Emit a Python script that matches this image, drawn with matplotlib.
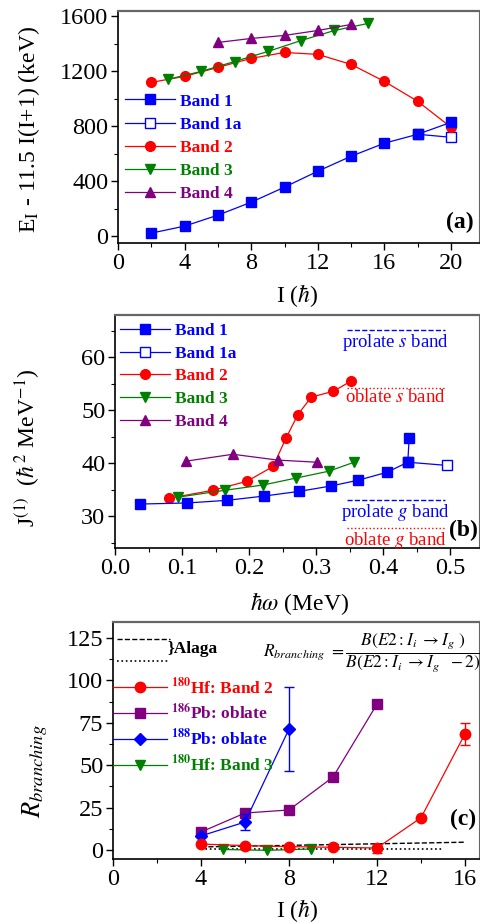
import matplotlib
matplotlib.use("Agg")
import matplotlib.pyplot as plt
import numpy as np
from matplotlib.ticker import MultipleLocator
from matplotlib.lines import Line2D

plt.rcParams.update({
    "font.family": "serif",
    "font.serif": ["Liberation Serif", "DejaVu Serif"],
    "mathtext.fontset": "stix",
    "font.size": 17,
})

BLUE, RED, GREEN, PURPLE = "#0000FF", "#FF0000", "#008000", "#800080"

# ---- panel (a): E_I - 11.5 I(I+1) vs spin
a_band1_I = [2, 4, 6, 8, 10, 12, 14, 16, 18, 20]
a_band1_E = [22, 73, 153, 247, 357, 473, 582, 677, 742, 829]
a_band1a_I = [18, 20]
a_band1a_E = [742, 720]
a_band2_I = [2, 4, 6, 8, 10, 12, 14, 16, 18, 20]
a_band2_E = [1120, 1164, 1229, 1295, 1338, 1324, 1251, 1127, 982, 793]
a_band3_I = [3, 5, 7, 9, 11, 13, 15]
a_band3_E = [1142, 1200, 1272, 1345, 1425, 1498, 1549]
a_band4_I = [6, 8, 10, 12, 14]
a_band4_E = [1411, 1440, 1462, 1498, 1542]

# ---- panel (b): kinematic moment of inertia vs rotational frequency
b_band1_w = [0.037, 0.107, 0.167, 0.222, 0.275, 0.322, 0.363, 0.406, 0.437, 0.439]
b_band1_J = [32.3, 32.5, 33.0, 33.8, 34.7, 35.7, 36.8, 38.3, 40.2, 44.7]
b_band1a_w = [0.437, 0.495]
b_band1a_J = [40.2, 39.6]
b_band2_w = [0.081, 0.146, 0.197, 0.236, 0.255, 0.273, 0.293, 0.326, 0.352]
b_band2_J = [33.4, 34.9, 36.6, 39.4, 44.7, 49.2, 52.5, 53.6, 55.5]
b_band3_w = [0.094, 0.164, 0.221, 0.270, 0.319, 0.357]
b_band3_J = [33.6, 34.9, 35.9, 37.2, 38.5, 40.2]
b_band4_w = [0.106, 0.176, 0.243, 0.301]
b_band4_J = [40.4, 41.7, 40.6, 40.2]
ref_labels = ["prolate $s$ band", "oblate $s$ band", "prolate $g$ band", "oblate $g$ band"]
ref_J = [65.1, 54.3, 33.0, 27.7]
ref_w = [0.346, 0.492]

# ---- panel (c): branching ratios
c_hf2_I = [4, 6, 8, 10, 12, 14, 16]
c_hf2_R = [3.5, 2.6, 2.0, 1.6, 1.2, 19, 68.5]
c_hf2_lo = [0, 0, 0, 0, 3, 0, 6.5]
c_hf2_hi = [0, 0, 0, 0, 0, 0, 6.5]
c_pb186_I = [4, 6, 8, 10, 12]
c_pb186_R = [10.6, 21.8, 23.6, 43, 86]
c_pb188_I = [4, 6, 8]
c_pb188_R = [8.3, 16.5, 71.3]
c_pb188_err = [0, 5, 24.5]
c_hf3_I = [5, 7, 9]
c_hf3_R = [0.3, -0.2, 0.6]
alaga_dash_I = [4, 16]
alaga_dash_R = [1.8, 4.6]
alaga_dot_I = [4, 15]
alaga_dot_R = [0.3, 0.3]

W, H = 480, 924
fig = plt.figure(figsize=(W / 100, H / 100), dpi=100)


def make_ax(left, top, bottom):
    ax = fig.add_axes([left / W, 1 - bottom / H, (W - 1 - left) / W, (bottom - top) / H])
    ax.tick_params(which="both", direction="out", top=False, right=False, labelsize=17.5, pad=2)
    ax.tick_params(which="major", length=5, width=1)
    ax.tick_params(which="minor", length=3, width=0.8)
    for s in ["left", "bottom"]:
        ax.spines[s].set_linewidth(1.2)
    ax.spines["top"].set_color("#666666")
    ax.spines["top"].set_linewidth(1.6)
    ax.spines["right"].set_color("#666666")
    return ax


def legend(ax, anchor, size, spacing, hl=2.9):
    leg = ax.legend(loc="upper left", bbox_to_anchor=anchor, frameon=False,
                    prop={"size": size, "weight": "bold"}, labelcolor="linecolor",
                    handlelength=hl, handletextpad=0.25, labelspacing=spacing,
                    borderpad=0, borderaxespad=0)
    return leg


lw = 0.9
# ---------------- (a)
ax = make_ax(118, 11, 243)
ax.plot(a_band1_I, a_band1_E, "s-", color=BLUE, ms=6.5, lw=lw, label="Band 1", zorder=3)
ax.plot(a_band1a_I, a_band1a_E, "s-", color=BLUE, mfc="white", ms=6.5, lw=lw, label="Band 1a")
ax.plot(a_band2_I, a_band2_E, "o-", color=RED, ms=7, lw=lw, label="Band 2")
ax.plot(a_band3_I, a_band3_E, "v-", color=GREEN, ms=7.5, lw=lw, label="Band 3")
ax.plot(a_band4_I, a_band4_E, "^-", color=PURPLE, ms=7.5, lw=lw, label="Band 4")
ax.set_xlim(0, (W - 1 - 118) / (333 / 20))
ax.set_ylim(-50, 1640)
ax.xaxis.set_major_locator(MultipleLocator(4))
ax.xaxis.set_minor_locator(MultipleLocator(2))
ax.yaxis.set_major_locator(MultipleLocator(400))
ax.yaxis.set_minor_locator(MultipleLocator(200))
ax.set_xlabel(r"I ($\hbar$)", fontsize=17)
ax.xaxis.set_label_coords(0.496, -0.168)
ax.set_ylabel(r"E$_{\mathrm{I}}$ - 11.5 I(I+1) (keV)", fontsize=17)
ax.yaxis.set_label_coords(-0.21, 0.487)
legend(ax, (0.019, 0.645), 12.5, 0.4)
ax.text(0.947, 0.09, "(a)", transform=ax.transAxes, fontsize=17, fontweight="bold",
        ha="center", va="center")

# ---------------- (b)
ax = make_ax(115, 315, 548)
ax.plot(b_band1_w, b_band1_J, "s-", color=BLUE, ms=6.5, lw=lw, label="Band 1", zorder=3)
ax.plot(b_band1a_w, b_band1a_J, "s-", color=BLUE, mfc="white", ms=6.5, lw=lw, label="Band 1a")
ax.plot(b_band2_w, b_band2_J, "o-", color=RED, ms=7, lw=lw, label="Band 2")
ax.plot(b_band3_w, b_band3_J, "v-", color=GREEN, ms=7.5, lw=lw, label="Band 3")
ax.plot(b_band4_w, b_band4_J, "^-", color=PURPLE, ms=7.5, lw=lw, label="Band 4")
ref_colors = [BLUE, RED, BLUE, RED]
ref_ls = ["--", ":", "--", ":"]
for lab, j, c, ls in zip(ref_labels, ref_J, ref_colors, ref_ls):
    ax.plot(ref_w, [j, j], ls=ls, color=c, lw=1)
    ax.annotate(lab, (np.mean(ref_w), j), xytext=(0, -1), textcoords="offset points",
                ha="center", va="top", color=c, fontsize=13.5)
ax.set_xlim(0, (W - 1 - 115) / 670)
ax.set_ylim(24, 68)
ax.xaxis.set_major_locator(MultipleLocator(0.1))
ax.xaxis.set_minor_locator(MultipleLocator(0.05))
ax.yaxis.set_major_locator(MultipleLocator(10))
ax.yaxis.set_minor_locator(MultipleLocator(5))
ax.set_xlabel(r"$\hbar\omega$ (MeV)", fontsize=17)
ax.xaxis.set_label_coords(0.508, -0.18)
ax.set_ylabel(r"J$^{(1)}$  ($\hbar^{2}$ MeV$^{-1}$)", fontsize=17)
ax.yaxis.set_label_coords(-0.20, 0.43)
legend(ax, (0.014, 0.965), 12.5, 0.37)
ax.text(0.956, 0.077, "(b)", transform=ax.transAxes, fontsize=17, fontweight="bold",
        ha="center", va="center")

# ---------------- (c)
ax = make_ax(113, 622, 859)
ax.plot(alaga_dash_I, alaga_dash_R, "--", color="black", lw=1)
ax.plot(alaga_dot_I, alaga_dot_R, ":", color="black", lw=1.2)
ax.plot(c_hf2_I, c_hf2_R, "o-", color=RED, ms=7.5, lw=lw,
        label=r"$^{\mathbf{180}}$Hf: Band 2", zorder=3)
ax.plot(c_pb186_I, c_pb186_R, "s-", color=PURPLE, ms=6.5, lw=lw,
        label=r"$^{\mathbf{186}}$Pb: oblate")
ax.plot(c_pb188_I, c_pb188_R, "D-", color=BLUE, ms=6.5, lw=lw,
        label=r"$^{\mathbf{188}}$Pb: oblate")
ax.plot(c_hf3_I, c_hf3_R, "v-", color=GREEN, ms=7.5, lw=lw,
        label=r"$^{\mathbf{180}}$Hf: Band 3")
m = np.array(c_hf2_lo) + np.array(c_hf2_hi) > 0
ax.errorbar(np.array(c_hf2_I)[m], np.array(c_hf2_R)[m],
            yerr=[np.array(c_hf2_lo)[m], np.array(c_hf2_hi)[m]],
            fmt="none", ecolor=RED, elinewidth=1, capsize=3.5)
m = np.array(c_pb188_err) > 0
ax.errorbar(np.array(c_pb188_I)[m], np.array(c_pb188_R)[m], yerr=np.array(c_pb188_err)[m],
            fmt="none", ecolor=BLUE, elinewidth=1, capsize=3.5)
ax.set_xlim(0, (W - 1 - 113) / 22)
ax.set_ylim(-5.3, 134.4)
ax.xaxis.set_major_locator(MultipleLocator(4))
ax.xaxis.set_minor_locator(MultipleLocator(2))
ax.yaxis.set_major_locator(MultipleLocator(25))
ax.yaxis.set_minor_locator(MultipleLocator(12.5))
ax.set_xlabel(r"I ($\hbar$)", fontsize=17)
ax.xaxis.set_label_coords(0.503, -0.16)
ax.set_ylabel(r"$R_{branching}$", fontsize=19)
ax.yaxis.set_label_coords(-0.172, 0.37)
# Alaga key
key = [Line2D([], [], ls="--", color="black", lw=1), Line2D([], [], ls=":", color="black", lw=1.2)]
kleg = ax.legend(key, ["", ""], loc="upper left", bbox_to_anchor=(0.01, 0.955), frameon=False,
                 handlelength=3.2, labelspacing=0.35, borderpad=0, borderaxespad=0, fontsize=12)
ax.add_artist(kleg)
legend(ax, (0.0, 0.77), 12.5, 0.3, hl=3.1)
ax.text(0.148, 0.886, "}Alaga", transform=ax.transAxes, fontsize=12.5, fontweight="bold",
        ha="left", va="center")
ax.text(0.41, 0.87,
        r"$R_{branching}\ =\dfrac{B(E2:I_i\ \rightarrow I_g\ )}{B(E2:I_i\ \rightarrow I_g\ \ -2)}$",
        transform=ax.transAxes, fontsize=12.5, ha="left", va="center")
ax.text(0.956, 0.165, "(c)", transform=ax.transAxes, fontsize=17, fontweight="bold",
        ha="center", va="center")

fig.savefig("out.png", dpi=100)
